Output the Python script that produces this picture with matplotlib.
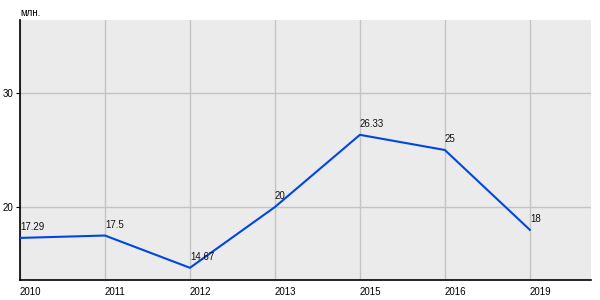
import matplotlib

matplotlib.use('Agg')
import matplotlib.pyplot as plt

plt.rcParams['font.family'] = ['Liberation Sans', 'DejaVu Sans']

years = ['2010', '2011', '2012', '2013', '2015', '2016', '2019']
values = [17.29, 17.5, 14.67, 20, 26.33, 25, 18]
value_labels = ['17.29', '17.5', '14.67', '20', '26.33', '25', '18']
y_ticks = [20, 30]

fig = plt.figure(figsize=(6, 3), dpi=100)
ax = fig.add_axes([20 / 600, 20 / 300, 571 / 600, 260 / 300])
ax.set_facecolor('#ebebeb')

xs = range(len(years))
ax.plot(xs, values, color='#0047e0', linewidth=1.5, zorder=3)
for x, v, lab in zip(xs, values, value_labels):
    ax.annotate(lab, (x, v), xytext=(0, 4), textcoords='offset points',
                ha='left', va='bottom', fontsize=7, color='#111111', zorder=4)

ax.set_xlim(0, 6.72)
ax.set_ylim(13.6, 36.4)
ax.set_xticks(list(xs))
ax.set_xticklabels(years, ha='left', fontsize=7)
ax.set_yticks(y_ticks)
ax.set_yticklabels([str(t) for t in y_ticks], fontsize=7)
ax.tick_params(axis='x', length=0, pad=5)
ax.tick_params(axis='y', length=3, pad=2)
ax.grid(True, color='#c4c4c4', linewidth=1)
ax.set_axisbelow(True)
for side in ['top', 'right']:
    ax.spines[side].set_visible(False)
for side in ['left', 'bottom']:
    ax.spines[side].set_color('black')
    ax.spines[side].set_linewidth(1.2)

fig.text(20 / 600, 1 - 13 / 300, 'млн.', fontsize=7, ha='left', va='center')

plt.savefig('out.png', dpi=100)
plt.close()
